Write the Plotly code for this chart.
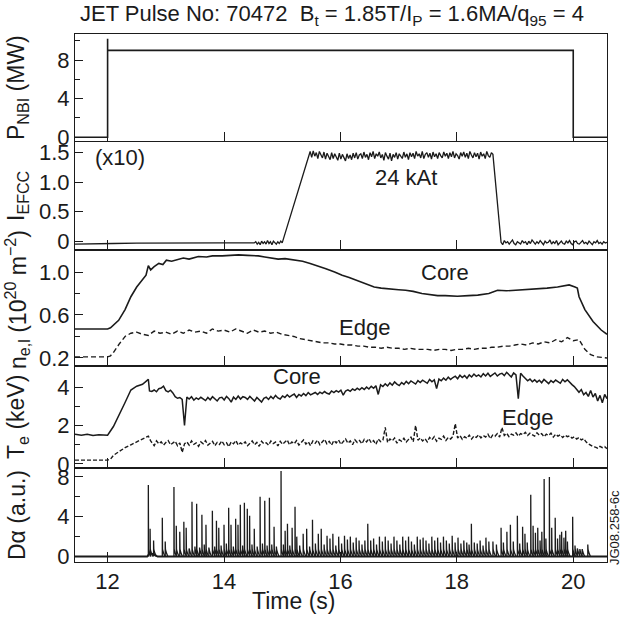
import numpy as np
import plotly.graph_objects as go
from plotly.subplots import make_subplots

FONT = "Liberation Sans, Arial, Helvetica, sans-serif"
INK = "#1b1b1b"

# ---------------- shared time axis ----------------
t_range = [11.44, 20.58]
time_ticks = [12, 14, 16, 18, 20]

# ---------------- NBI power (MW) ----------------
nbi_t = [11.44, 12.0, 12.0, 12.0, 20.0, 20.0, 20.58]
nbi_p = [0.0, 0.0, 10.2, 9.0, 9.0, 0.0, 0.0]

# ---------------- EFCC current (x10 kAt) ----------------
efcc_pre_t = [11.44, 12.0, 12.1, 12.5, 13.0, 13.5, 13.8, 14.0, 14.5]
efcc_pre_v = [-0.05, -0.05, -0.04, -0.035, -0.03, -0.025, -0.02, -0.03, -0.03]
efcc_flat1_v = [-0.03, -0.01, -0.05, -0.02, -0.06, 0.0, -0.04, -0.01, -0.05, 0.01,
                -0.04, -0.01, -0.06, 0.0, -0.03, -0.05, -0.01, -0.04, 0.0, -0.03]  # 14.52 .. 15.0
efcc_plateau_v = [1.52, 1.42, 1.53, 1.44, 1.50, 1.40, 1.52, 1.45, 1.41, 1.51,
                  1.39, 1.49, 1.44, 1.38, 1.50, 1.40, 1.48, 1.43, 1.37, 1.49,
                  1.39, 1.47, 1.42, 1.36, 1.48, 1.40, 1.46, 1.38, 1.49, 1.41,
                  1.50, 1.39, 1.46, 1.48, 1.40, 1.51, 1.42, 1.47, 1.38, 1.50,
                  1.43, 1.52, 1.40, 1.48, 1.44, 1.51, 1.41, 1.47, 1.37, 1.50,
                  1.44, 1.39, 1.49, 1.36, 1.47, 1.42, 1.50, 1.39, 1.48, 1.44,
                  1.40, 1.51, 1.42, 1.48, 1.38, 1.50, 1.43, 1.49, 1.40, 1.52,
                  1.44, 1.48, 1.41, 1.52, 1.40, 1.47, 1.50, 1.42, 1.49, 1.39,
                  1.51, 1.43, 1.48, 1.40, 1.50, 1.45, 1.41, 1.51, 1.44, 1.49,
                  1.40, 1.50, 1.43, 1.52, 1.41, 1.48, 1.45, 1.39, 1.50, 1.44,
                  1.51, 1.42, 1.49, 1.40, 1.52, 1.46, 1.41, 1.50, 1.43, 1.49,
                  1.39, 1.51, 1.44, 1.48, 1.40, 1.52, 1.45, 1.42, 1.50, 1.47]  # 15.48 .. 18.62
efcc_flat2_v = [-0.02, -0.06, 0.01, -0.03, -0.01, -0.05, -0.02, 0.02, -0.04, -0.06,
                -0.01, -0.03, -0.05, 0.01, -0.03, -0.01, -0.06, 0.0, -0.04, 0.02,
                -0.02, -0.05, -0.01, -0.04, 0.01, -0.02, -0.06, 0.0, -0.03, -0.02,
                0.02, -0.05, -0.01, -0.04, 0.01, -0.06, -0.02, 0.0, -0.04, -0.05,
                0.0, -0.03, 0.01, -0.04, -0.06, -0.01, 0.0, -0.04, -0.05, -0.01,
                0.01, -0.04, -0.02, -0.05, 0.0, -0.03, -0.06, -0.01, -0.03, 0.01,
                -0.04, -0.02, -0.05, -0.01, -0.03, -0.02]            # 18.76 .. 20.58

# ---------------- line-integrated density (1e20 m^-2) ----------------
ne_core_t = [11.44, 12.0, 12.05, 12.19, 12.3, 12.4, 12.5, 12.6, 12.66, 12.7, 12.74,
             12.8, 12.88, 12.95, 13.01, 13.1, 13.22, 13.3, 13.4, 13.56, 13.7, 13.8,
             13.97, 14.1, 14.25, 14.4, 14.59, 14.7, 14.8, 14.93, 15.05, 15.2, 15.35,
             15.48, 15.6, 15.75, 15.9, 16.03, 16.15, 16.3, 16.45, 16.58, 16.7, 16.85,
             17.0, 17.12, 17.25, 17.4, 17.55, 17.67, 17.8, 18.01, 18.2, 18.36, 18.55,
             18.7, 18.85, 19.04, 19.2, 19.38, 19.55, 19.73, 19.85, 19.93, 20.03,
             20.07, 20.1, 20.2, 20.34, 20.48, 20.58]
ne_core_v = [0.47, 0.47, 0.48, 0.55, 0.65, 0.77, 0.86, 0.93, 0.97, 1.06, 1.02,
             1.05, 1.08, 1.07, 1.11, 1.10, 1.12, 1.13, 1.12, 1.145, 1.14, 1.15,
             1.15, 1.155, 1.16, 1.155, 1.15, 1.14, 1.13, 1.12, 1.125, 1.115, 1.10,
             1.08, 1.06, 1.03, 1.00, 0.97, 0.95, 0.92, 0.89, 0.86, 0.85, 0.84,
             0.835, 0.83, 0.82, 0.80, 0.79, 0.78, 0.78, 0.775, 0.78, 0.785, 0.80,
             0.83, 0.825, 0.83, 0.835, 0.84, 0.85, 0.86, 0.87, 0.88, 0.86,
             0.85, 0.77, 0.65, 0.54, 0.46, 0.42]

ne_edge_t = [11.44, 12.0, 12.05, 12.1, 12.2, 12.3, 12.4, 12.5, 12.6, 12.7, 12.8, 12.9,
             13.0, 13.1, 13.2, 13.3, 13.4, 13.5, 13.6, 13.7, 13.8, 13.9, 14.0, 14.1,
             14.2, 14.3, 14.4, 14.5, 14.6, 14.7, 14.8, 14.9, 15.0, 15.1, 15.2, 15.3,
             15.4, 15.5, 15.6, 15.7, 15.8, 15.9, 16.0, 16.1, 16.2, 16.3, 16.4, 16.5,
             16.6, 16.7, 16.8, 16.9, 17.0, 17.1, 17.2, 17.3, 17.4, 17.5, 17.6, 17.7,
             17.8, 17.9, 18.0, 18.1, 18.2, 18.3, 18.4, 18.5, 18.6, 18.7, 18.8, 18.9,
             19.0, 19.1, 19.2, 19.3, 19.4, 19.5, 19.6, 19.7, 19.8, 19.9, 20.0, 20.1,
             20.2, 20.3, 20.4, 20.58]
ne_edge_v = [0.21, 0.21, 0.22, 0.25, 0.33, 0.40, 0.43, 0.44, 0.42, 0.41, 0.45, 0.43,
             0.44, 0.42, 0.45, 0.43, 0.46, 0.44, 0.45, 0.43, 0.47, 0.45, 0.46, 0.44,
             0.47, 0.45, 0.43, 0.46, 0.44, 0.45, 0.43, 0.44, 0.42, 0.41, 0.40, 0.38,
             0.37, 0.36, 0.35, 0.34, 0.34, 0.33, 0.33, 0.32, 0.32, 0.31, 0.31, 0.30,
             0.30, 0.29, 0.30, 0.29, 0.29, 0.28, 0.29, 0.28, 0.28, 0.28, 0.27, 0.28,
             0.28, 0.27, 0.28, 0.28, 0.29, 0.28, 0.29, 0.29, 0.30, 0.30, 0.31, 0.31,
             0.32, 0.33, 0.32, 0.34, 0.33, 0.35, 0.34, 0.37, 0.35, 0.39, 0.36, 0.37,
             0.28, 0.23, 0.21, 0.20]

# ---------------- electron temperature (keV) ----------------
te_core_start_t = [11.44, 11.55, 11.65, 11.75, 11.85, 11.95, 12.0, 12.1, 12.2, 12.3,
                   12.4, 12.5, 12.6, 12.7, 12.72]
te_core_start_v = [1.55, 1.50, 1.55, 1.48, 1.52, 1.50, 1.50, 1.95, 2.55, 3.20,
                   3.85, 4.05, 4.15, 4.40, 3.80]
te_core_v = [3.78, 3.85, 3.76, 3.92, 3.95, 4.05, 3.82, 3.75, 3.84, 3.70,
             3.50, 3.42, 3.46, 3.36, 2.00, 3.48, 3.38, 3.50, 3.32, 3.44,
             3.36, 3.47, 3.38, 3.30, 3.46, 3.34, 3.50, 3.38, 3.28, 3.44,
             3.47, 3.33, 3.52, 3.40, 3.22, 3.48, 3.36, 3.54, 3.38, 3.50,
             3.46, 3.36, 3.52, 3.40, 3.28, 3.46, 3.34, 3.22, 3.42, 3.48,
             3.36, 3.52, 3.40, 3.57, 3.44, 3.38, 3.54, 3.46, 3.60, 3.48,
             3.57, 3.64, 3.46, 3.62, 3.54, 3.67, 3.56, 3.72, 3.60, 3.68,
             3.72, 3.62, 3.74, 3.66, 3.77, 3.68, 3.64, 3.80, 3.72, 3.82,
             3.74, 3.84, 3.58, 3.80, 3.86, 3.78, 3.90, 3.83, 3.94, 3.86,
             3.97, 3.88, 4.00, 3.90, 4.04, 3.94, 4.07, 3.62, 4.12, 4.03,
             4.17, 4.06, 4.22, 4.10, 4.27, 4.16, 4.08, 4.24, 4.14, 4.30,
             4.18, 4.32, 4.22, 4.16, 4.34, 4.24, 4.36, 4.26, 4.20, 4.40,
             4.28, 4.38, 3.92, 4.42, 4.33, 4.47, 4.36, 4.52, 4.40, 4.50,
             4.57, 4.44, 4.62, 4.50, 4.60, 4.46, 4.64, 4.53, 4.68, 4.56,
             4.64, 4.53, 4.70, 4.58, 4.72, 4.56, 4.67, 4.74, 4.58, 4.68,
             4.72, 4.60, 4.77, 4.66, 4.53, 4.74, 4.64, 3.40, 4.72, 4.58,
             4.47, 4.33, 4.42, 4.28, 4.38, 4.26, 4.36, 4.23, 4.40, 4.28,
             4.18, 4.34, 4.24, 4.37, 4.26, 4.20, 4.40, 4.28, 4.38, 4.23,
             4.13, 4.03, 3.88, 3.73, 3.87, 3.60, 3.72, 3.52, 3.82, 3.48,
             3.67, 3.28, 3.57, 3.18, 3.62, 3.40]              # 12.76 .. 20.58

te_edge_start_t = [11.44, 12.0, 12.05, 12.1, 12.2, 12.3, 12.4, 12.5, 12.6, 12.7, 12.74]
te_edge_start_v = [0.20, 0.20, 0.25, 0.45, 0.65, 0.85, 1.00, 1.15, 1.30, 1.45, 1.20]
te_edge_v = [1.10, 0.95, 1.20, 1.05, 1.15, 0.98, 1.12, 1.22, 1.00, 1.08,
             1.18, 0.95, 1.10, 0.60, 1.05, 1.15, 0.98, 1.20, 1.02, 1.10,
             0.92, 1.15, 1.05, 1.22, 0.98, 1.08, 1.18, 0.95, 1.12, 1.02,
             1.20, 1.00, 1.10, 0.90, 1.15, 1.05, 1.22, 0.98, 1.10, 1.02,
             1.15, 0.95, 1.08, 1.20, 1.00, 1.12, 0.92, 1.18, 1.05, 1.10,
             0.98, 1.20, 1.06, 1.14, 0.94, 1.18, 1.02, 1.12, 1.25, 1.00,
             1.15, 1.05, 1.22, 0.98, 1.12, 1.25, 1.04, 1.16, 0.95, 1.20,
             1.08, 1.24, 1.00, 1.15, 1.28, 1.05, 1.18, 0.98, 1.22, 1.10,
             1.25, 1.02, 1.18, 1.30, 1.08, 1.20, 1.00, 1.26, 1.12, 1.22,
             1.05, 1.28, 1.15, 1.32, 1.10, 1.22, 1.02, 1.30, 1.16, 1.24,
             1.90, 1.12, 1.30, 1.20, 1.35, 1.08, 1.26, 1.18, 1.34, 1.14,
             1.28, 1.40, 1.16, 2.00, 1.24, 1.36, 1.20, 1.32, 1.15, 1.38,
             1.26, 1.42, 1.18, 1.34, 1.28, 1.45, 1.22, 1.38, 1.30, 1.44,
             2.10, 1.35, 1.48, 1.28, 1.42, 1.34, 1.50, 1.30, 1.45, 1.38,
             1.52, 1.36, 1.48, 1.40, 1.55, 1.32, 1.50, 1.44, 1.58, 1.40,
             1.90, 1.48, 1.60, 1.42, 1.55, 1.50, 1.62, 1.45, 1.58, 1.52,
             1.65, 1.48, 1.60, 1.52, 1.45, 1.62, 1.50, 1.58, 1.42, 1.55,
             1.48, 1.60, 1.40, 1.55, 1.45, 1.52, 1.38, 1.50, 1.42, 1.46,
             1.35, 1.42, 1.30, 1.38, 1.25, 1.32, 1.15, 1.05, 0.95, 0.90,
             0.88, 0.82, 0.92, 0.85, 0.90, 0.80]              # 12.76 .. 20.58

# ---------------- D-alpha (a.u.) ----------------
da_base_t = [11.44, 12.68, 12.72, 12.78, 12.86, 20.58]
da_base_v = [0.0, 0.0, 0.30, 0.25, 0.0, 0.0]
elm_t = [12.70, 12.73, 12.79, 12.94, 12.99, 13.14, 13.18, 13.24, 13.31, 13.35,
         13.40, 13.45, 13.50, 13.53, 13.58, 13.62, 13.66, 13.69, 13.74, 13.80,
         13.84, 13.87, 13.91, 13.95, 14.00, 14.04, 14.08, 14.12, 14.16, 14.20,
         14.24, 14.28, 14.32, 14.35, 14.40, 14.44, 14.48, 14.52, 14.57, 14.62,
         14.66, 14.70, 14.74, 14.78, 14.82, 14.86, 14.90, 14.98, 15.02, 15.05,
         15.09, 15.13, 15.17, 15.22, 15.25, 15.30, 15.36, 15.42, 15.47, 15.52,
         15.57, 15.62, 15.67, 15.72, 15.77, 15.82, 15.87, 15.92, 15.97, 16.02,
         16.07, 16.12, 16.17, 16.22, 16.27, 16.32, 16.37, 16.42, 16.47, 16.52,
         16.57, 16.62, 16.67, 16.72, 16.77, 16.82, 16.87, 16.92, 16.97, 17.02,
         17.07, 17.12, 17.17, 17.22, 17.27, 17.32, 17.37, 17.42, 17.47, 17.52,
         17.57, 17.62, 17.67, 17.72, 17.77, 17.82, 17.87, 17.92, 17.97, 18.02,
         18.07, 18.12, 18.17, 18.21, 18.25, 18.30, 18.35, 18.40, 18.45, 18.50,
         18.55, 18.62, 18.68, 18.76, 18.80, 18.86, 18.92, 18.97, 19.04, 19.08,
         19.13, 19.17, 19.21, 19.27, 19.31, 19.35, 19.39, 19.43, 19.46, 19.50,
         19.53, 19.59, 19.63, 19.69, 19.73, 19.77, 19.80, 19.84, 19.87, 19.90,
         19.99, 20.03, 20.07, 20.11, 20.15, 20.25]
elm_h = [7.2, 2.8, 1.6, 3.9, 1.5, 7.0, 3.1, 2.5, 3.5, 2.9,
         0.8, 5.5, 1.0, 5.3, 0.9, 4.2, 1.2, 3.2, 0.9, 4.6,
         1.0, 3.6, 2.9, 1.1, 3.2, 1.3, 4.9, 3.2, 1.0, 3.8,
         3.2, 5.2, 1.1, 5.4, 4.8, 4.1, 1.2, 2.8, 1.0, 6.0,
         1.3, 5.6, 1.1, 5.9, 1.2, 3.0, 1.0, 8.6, 1.2, 2.6,
         3.3, 1.1, 2.9, 5.0, 2.0, 1.1, 2.3, 2.8, 1.0, 3.7,
         1.3, 2.3, 2.8, 1.2, 2.1, 1.8, 2.3, 1.1, 2.0, 1.3,
         2.1, 1.7, 2.0, 1.4, 1.9, 1.6, 1.2, 1.6, 3.3, 1.6,
         1.8, 1.2, 2.0, 1.5, 2.0, 1.6, 1.3, 2.0, 1.6, 1.2,
         2.0, 1.6, 2.0, 1.5, 1.2, 2.0, 1.7, 1.9, 1.6, 1.3,
         2.0, 1.6, 1.9, 1.4, 2.0, 1.6, 1.3, 2.1, 1.4, 1.9,
         1.3, 1.6, 1.4, 1.2, 3.3, 1.4, 1.3, 1.6, 1.1, 1.9,
         1.5, 1.5, 1.2, 2.9, 1.4, 2.5, 3.2, 1.5, 4.1, 1.3,
         3.0, 2.3, 1.4, 6.2, 3.1, 2.4, 2.9, 1.6, 2.5, 7.8,
         1.8, 8.0, 2.9, 3.9, 1.8, 2.2, 2.5, 1.9, 2.6, 1.5,
         4.0, 1.1, 0.8, 0.6, 0.5, 1.2]

# ---------------- axis tick labels ----------------
y_ticks = [
    dict(vals=[0, 4, 8], text=["0", "4", "8"], minor=[2, 6, 10], rng=[-0.5, 10.7]),
    dict(vals=[0, 0.5, 1.0, 1.5], text=["0", "0.5", "1.0", "1.5"], minor=[], rng=[-0.15, 1.68]),
    dict(vals=[0.2, 0.6, 1.0], text=["0.2", "0.6", "1.0"], minor=[0.4, 0.8, 1.2], rng=[0.125, 1.205]),
    dict(vals=[0, 2, 4], text=["0", "2", "4"], minor=[1, 3], rng=[-0.21, 5.1]),
    dict(vals=[0, 4, 8], text=["0", "4", "8"], minor=[2, 6], rng=[-0.55, 8.9]),
]
y_titles = ["P<sub>NBI</sub> (MW)", "I<sub>EFCC</sub>",
            "n<sub>e,l</sub> (10<sup>20</sup> m<sup>\u22122</sup>)",
            "T<sub>e</sub> (keV)", "D\u03b1 (a.u.)"]
title_text = ("JET Pulse No: 70472  B<sub>t</sub> = 1.85T/I<sub>P</sub> = "
              "1.6MA/q<sub>95</sub> = 4")

# ---------------- assemble traces ----------------
efcc_t = (efcc_pre_t
          + list(np.linspace(14.52, 15.0, len(efcc_flat1_v)))
          + list(np.linspace(15.48, 18.62, len(efcc_plateau_v)))
          + list(np.linspace(18.76, 20.58, len(efcc_flat2_v))))
efcc_v = efcc_pre_v + efcc_flat1_v + efcc_plateau_v + efcc_flat2_v

te_core_t = te_core_start_t + list(np.linspace(12.76, 20.58, len(te_core_v)))
te_core_all = te_core_start_v + te_core_v
te_edge_t = te_edge_start_t + list(np.linspace(12.76, 20.58, len(te_edge_v)))
te_edge_all = te_edge_start_v + te_edge_v

# each ELM drawn as a sharp rise with a short decay back to the baseline
elm_x, elm_y = [], []
for t, h in zip(elm_t, elm_h):
    elm_x += [t, t, t + 0.004, t + 0.015, t + 0.03, t + 0.045, None]
    elm_y += [0.0, h, 0.75, 0.45, 0.2, 0.0, None]

row_px = [108, 108, 116, 102, 94]
fig = make_subplots(rows=5, cols=1, shared_xaxes=True, vertical_spacing=0,
                    row_heights=row_px)

line = dict(color=INK, width=1.6)
fig.add_trace(go.Scatter(x=nbi_t, y=nbi_p, mode="lines", line=line), row=1, col=1)
fig.add_trace(go.Scatter(x=efcc_t, y=efcc_v, mode="lines", line=dict(color=INK, width=1.3)), row=2, col=1)
fig.add_trace(go.Scatter(x=ne_core_t, y=ne_core_v, mode="lines", line=line), row=3, col=1)
fig.add_trace(go.Scatter(x=ne_edge_t, y=ne_edge_v, mode="lines",
                         line=dict(color=INK, width=1.4, dash="5px,3px")), row=3, col=1)
fig.add_trace(go.Scatter(x=te_core_t, y=te_core_all, mode="lines",
                         line=dict(color=INK, width=1.5)), row=4, col=1)
fig.add_trace(go.Scatter(x=te_edge_t, y=te_edge_all, mode="lines",
                         line=dict(color=INK, width=1.4, dash="4px,2px")), row=4, col=1)
fig.add_trace(go.Scatter(x=da_base_t, y=da_base_v, mode="lines",
                         line=dict(color=INK, width=2.0)), row=5, col=1)
fig.add_trace(go.Scatter(x=elm_x, y=elm_y, mode="lines",
                         line=dict(color=INK, width=1.3)), row=5, col=1)

tick_font = dict(family=FONT, size=22, color=INK)
for i, spec in enumerate(y_ticks, start=1):
    fig.update_yaxes(row=i, col=1, range=spec["rng"], tickmode="array",
                     tickvals=spec["vals"], ticktext=spec["text"],
                     ticks="inside", ticklen=8, tickwidth=1.2, tickcolor=INK,
                     minor=dict(tickmode="array", tickvals=spec["minor"], ticks="inside",
                                ticklen=5, tickwidth=1.2, tickcolor=INK),
                     showline=True, linecolor=INK, linewidth=1.1, mirror=True,
                     showgrid=False, zeroline=False, tickfont=tick_font)
    fig.update_xaxes(row=i, col=1, range=t_range, tickmode="array", tickvals=time_ticks,
                     ticktext=[str(v) for v in time_ticks],
                     ticks="inside", ticklen=10, tickwidth=1.2, tickcolor=INK,
                     showline=True, linecolor=INK, linewidth=1.1, mirror=True,
                     showgrid=False, zeroline=False, tickfont=tick_font)

# panel centres (px from top of figure) for the rotated y titles
top = 34
centres = []
acc = top
for h in row_px:
    centres.append(acc + h / 2)
    acc += h
centres[2] -= 8
ann = []
for txt, c in zip(y_titles, centres):
    ann.append(dict(text=txt, xref="paper", yref="paper", x=0, y=1 - (c - top) / sum(row_px),
                    xanchor="center", yanchor="middle", xshift=-58, textangle=-90,
                    showarrow=False, font=dict(family=FONT, size=23, color=INK)))

def note(text, x, y, row, size=22):
    ax = "" if row == 1 else str(row)
    return dict(text=text, x=x, y=y, xref="x" + ax, yref="y" + ax, showarrow=False,
                font=dict(family=FONT, size=size, color=INK))

ann += [
    note("(x10)", 12.22, 1.41, 2),
    note("24 kAt", 17.12, 1.07, 2),
    note("Core", 17.8, 1.0, 3),
    note("Edge", 16.42, 0.48, 3),
    note("Core", 15.26, 4.55, 4),
    note("Edge", 19.22, 2.4, 4),
    dict(text=title_text, xref="paper", yref="paper", x=0.483, y=1, yshift=19,
         xanchor="center", yanchor="middle", showarrow=False,
         font=dict(family=FONT, size=22, color=INK)),
    dict(text="Time (s)", xref="paper", yref="paper", x=0.41, y=0, yshift=-39,
         xanchor="center", yanchor="middle", showarrow=False,
         font=dict(family=FONT, size=23, color=INK)),
    dict(text="JG08.258-6c", xref="paper", yref="paper", x=1, y=0, xshift=7, yshift=34,
         xanchor="center", yanchor="middle", textangle=-90, showarrow=False,
         font=dict(family=FONT, size=13, color=INK)),
]

fig.update_layout(width=621, height=619, showlegend=False,
                  margin=dict(l=75, r=14, t=34, b=57),
                  paper_bgcolor="white", plot_bgcolor="white",
                  annotations=ann)

fig.write_html("out.html")
